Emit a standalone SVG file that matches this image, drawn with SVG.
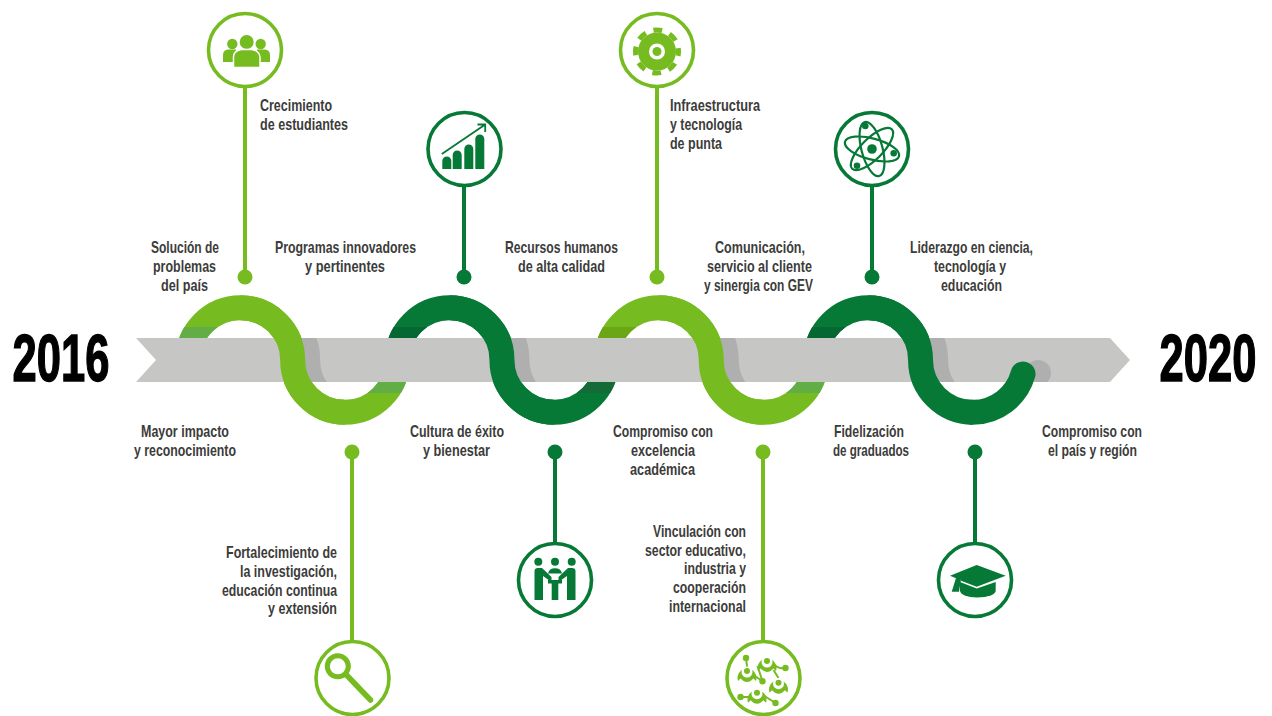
<svg xmlns="http://www.w3.org/2000/svg" width="1272" height="716" viewBox="0 0 1272 716">
<style>
.t{font-family:"Liberation Sans Narrow","Liberation Sans",Arial,sans-serif;font-size:17px;font-weight:700;fill:#3c3c3b}
.y{font-family:"Liberation Sans","Liberation Sans Narrow",Arial,sans-serif;font-size:67px;font-weight:700;fill:#000;stroke:#000;stroke-width:1.5}
.w{fill:none;stroke-width:25}
.L{stroke:#76bc21}.D{stroke:#067936}
.lf{fill:#76bc21}.df{fill:#067936}
.ring{fill:#fff;stroke-width:3.6}
.pin{stroke-width:4;fill:none}
.sh{stroke:#afafaf}
</style>
<defs>
<clipPath id="band"><path d="M136 338H1110L1130 360L1110 382H136L156 360Z"/></clipPath>
<clipPath id="up"><rect x="0" y="327" width="1272" height="11.500"/></clipPath>
<clipPath id="dn"><rect x="0" y="381.500" width="1272" height="11.500"/></clipPath>
<path id="s1" d="M240.330 307.675A52.325 52.325 0 0 1 292.650 360A52.325 52.325 0 0 0 344.980 412.325"/>
<path id="s2" d="M449.630 307.675A52.325 52.325 0 0 1 501.950 360A52.325 52.325 0 0 0 554.280 412.325"/>
<path id="s3" d="M658.930 307.675A52.325 52.325 0 0 1 711.250 360A52.325 52.325 0 0 0 763.580 412.325"/>
<path id="s4" d="M868.230 307.675A52.325 52.325 0 0 1 920.550 360A52.325 52.325 0 0 0 972.880 412.325"/>
<g id="fig">
<path d="M-9 8A9.500 9.500 0 1 1 9 8L6.500 5.500Q3 9 0 9Q-3 9 -6.500 5.500Z" fill="#76bc21"/>
<circle cy="-1" r="5.500" fill="#fff"/>
<circle cy="-2" r="3" fill="#76bc21"/>
</g>
</defs>
<rect width="1272" height="716" fill="#fff"/>
<g id="connectors">
<g id="wave-back">
<path class="w L" d="M188 360A52.325 52.325 0 0 1 292.650 360A52.325 52.325 0 0 0 397.300 360"/>
<path class="w D" d="M397.300 360A52.325 52.325 0 0 1 501.950 360A52.325 52.325 0 0 0 606.600 360"/>
<path class="w L" d="M606.600 360A52.325 52.325 0 0 1 711.250 360A52.325 52.325 0 0 0 815.900 360"/>
<path class="w D" d="M815.900 360A52.325 52.325 0 0 1 920.550 360"/>
<g clip-path="url(#up)">
<path class="w" stroke="#62ad45" d="M188 360A52.325 52.325 0 0 1 240.330 307.675"/>
<path class="w" stroke="#056731" d="M397.300 360A52.325 52.325 0 0 1 449.630 307.675"/>
<path class="w" stroke="#6ba614" d="M606.600 360A52.325 52.325 0 0 1 658.930 307.675"/>
<path class="w" stroke="#056731" d="M815.900 360A52.325 52.325 0 0 1 868.230 307.675"/>
</g>
<g clip-path="url(#dn)">
<path class="w" stroke="#62ad45" d="M344.980 412.325A52.325 52.325 0 0 0 397.300 360"/>
<path class="w" stroke="#156b38" d="M554.280 412.325A52.325 52.325 0 0 0 606.600 360"/>
<path class="w" stroke="#62ad45" d="M763.580 412.325A52.325 52.325 0 0 0 815.900 360"/>
</g>
</g>
<path id="band-shape" d="M136 338H1110L1130 360L1110 382H136L156 360Z" fill="#c6c6c5"/>
<g id="band-shadow" clip-path="url(#band)">
<g transform="translate(15 0)">
<use href="#s1" class="w sh"/><use href="#s2" class="w sh"/><use href="#s3" class="w sh"/><use href="#s4" class="w sh"/>
</g>
<circle cx="1038" cy="373" r="13" fill="#afafaf"/>
</g>
<g id="wave-front">
<use href="#s1" class="w L"/><use href="#s2" class="w D"/><use href="#s3" class="w L"/><use href="#s4" class="w D"/>
<path class="w D" stroke-linecap="round" d="M972.880 412.325A52.325 52.325 0 0 0 1023 374"/>
</g>
<g id="stems">
<path class="pin L" d="M245 86V277M657 86V277M352 452V642M763 452V642"/>
<path class="pin D" d="M464 185V277M872 185V277M555 452V544M975 452V544"/>
<circle class="lf" cx="245" cy="277" r="7.500"/><circle class="lf" cx="657" cy="277" r="7.500"/>
<circle class="lf" cx="352" cy="452" r="7.500"/><circle class="lf" cx="763" cy="452" r="7.500"/>
<circle class="df" cx="464" cy="277" r="7.500"/><circle class="df" cx="872" cy="277" r="7.500"/>
<circle class="df" cx="555" cy="452" r="7.500"/><circle class="df" cx="975" cy="452" r="7.500"/>
</g>
</g>
<g id="year-2016"><text class="y" transform="translate(12.500 381) scale(.65 1)">2016</text></g>
<g id="year-2020"><text class="y" transform="translate(1159.500 381) scale(.65 1)">2020</text></g>

<g id="node-estudiantes">
<g transform="translate(245 50)">
<circle class="ring L" r="36.500"/>
<g class="lf">
<circle cx="-12.700" cy="-6" r="5.200"/><circle cx="15.700" cy="-6" r="5.200"/>
<path d="M-22 12V5Q-22 0 -17 -0.500H-9V12ZM25 12V5Q25 0 20 -0.500H12V12Z"/>
<circle cx="1.700" cy="-8" r="7"/>
<path d="M-11.500 17.500V7Q-11.500 1 -4 -0.500H7Q14.500 1 15 7V17.500Z" stroke="#fff" stroke-width="1.500"/>
</g>
</g>
<text class="t" x="260" y="111" textLength="72" lengthAdjust="spacingAndGlyphs">Crecimiento</text>
<text class="t" x="260" y="130" textLength="88" lengthAdjust="spacingAndGlyphs">de estudiantes</text>
</g>

<g id="node-solucion">
<text class="t" x="151" y="253" textLength="68" lengthAdjust="spacingAndGlyphs">Solución de</text>
<text class="t" x="153" y="272" textLength="63" lengthAdjust="spacingAndGlyphs">problemas</text>
<text class="t" x="161" y="291" textLength="47" lengthAdjust="spacingAndGlyphs">del país</text>
</g>

<g id="node-programas">
<g transform="translate(464.500 149)">
<circle class="ring D" r="36.500"/>
<g class="df">
<path d="M-22.200 20V12A4.500 4.500 0 0 1 -13.200 12V20Z"/>
<path d="M-11.800 20V6A4.500 4.500 0 0 1 -2.800 6V20Z"/>
<path d="M-0.200 20V0A4.500 4.500 0 0 1 8.800 0V20Z"/>
<path d="M10.800 20V-10A4.500 4.500 0 0 1 19.800 -10V20Z"/>
</g>
<path d="M-22.700 5L20 -24M13 -24.500H20.700V-17" fill="none" stroke="#067936" stroke-width="1.800"/>
</g>
<text class="t" x="275" y="253" textLength="141" lengthAdjust="spacingAndGlyphs">Programas innovadores</text>
<text class="t" x="305" y="272" textLength="80" lengthAdjust="spacingAndGlyphs">y pertinentes</text>
</g>

<g id="node-recursos">
<text class="t" x="505" y="253" textLength="113" lengthAdjust="spacingAndGlyphs">Recursos humanos</text>
<text class="t" x="518" y="272" textLength="87" lengthAdjust="spacingAndGlyphs">de alta calidad</text>
</g>

<g id="node-infraestructura">
<g transform="translate(657 50)">
<circle class="ring L" r="36.500"/>
<g transform="translate(0 1.500)">
<circle r="21.500" fill="none" stroke="#76bc21" stroke-width="5" stroke-dasharray="8.900 8" stroke-dashoffset="4.400"/>
<circle r="13.500" fill="none" stroke="#76bc21" stroke-width="11"/>
<circle r="4.500" class="lf"/>
</g>
</g>
<text class="t" x="670" y="111" textLength="90" lengthAdjust="spacingAndGlyphs">Infraestructura</text>
<text class="t" x="670" y="130" textLength="72" lengthAdjust="spacingAndGlyphs">y tecnología</text>
<text class="t" x="670" y="149" textLength="52" lengthAdjust="spacingAndGlyphs">de punta</text>
</g>

<g id="node-comunicacion">
<text class="t" x="715" y="253" textLength="90" lengthAdjust="spacingAndGlyphs">Comunicación,</text>
<text class="t" x="707" y="272" textLength="105" lengthAdjust="spacingAndGlyphs">servicio al cliente</text>
<text class="t" x="704" y="291" textLength="109" lengthAdjust="spacingAndGlyphs">y sinergia con GEV</text>
</g>

<g id="node-liderazgo">
<g transform="translate(872 149)">
<circle class="ring D" r="36.500"/>
<g fill="none" stroke="#067936" stroke-width="2.200">
<ellipse rx="10.500" ry="28" transform="rotate(-15)"/>
<ellipse rx="10.500" ry="28" transform="rotate(45)"/>
<ellipse rx="10.500" ry="28" transform="rotate(105)"/>
</g>
<g class="df">
<circle r="4.800"/>
<circle cx="-6.700" cy="-23" r="3.300"/><circle cx="21.700" cy="4.300" r="3.300"/><circle cx="-15" cy="16.700" r="3.300"/>
</g>
</g>
<text class="t" x="910" y="253" textLength="123" lengthAdjust="spacingAndGlyphs">Liderazgo en ciencia,</text>
<text class="t" x="934" y="272" textLength="72" lengthAdjust="spacingAndGlyphs">tecnología y</text>
<text class="t" x="941" y="291" textLength="61" lengthAdjust="spacingAndGlyphs">educación</text>
</g>

<g id="node-impacto">
<text class="t" x="141" y="437" textLength="88" lengthAdjust="spacingAndGlyphs">Mayor impacto</text>
<text class="t" x="134" y="456" textLength="102" lengthAdjust="spacingAndGlyphs">y reconocimiento</text>
</g>

<g id="node-investigacion">
<g transform="translate(352.500 678)">
<circle class="ring L" r="36.500"/>
<circle cx="-14.700" cy="-11.700" r="10.500" fill="none" stroke="#76bc21" stroke-width="5"/>
<path d="M-6 -3L18 22" stroke="#76bc21" stroke-width="5.500" stroke-linecap="round"/>
</g>
<text class="t" x="226" y="558" textLength="111" lengthAdjust="spacingAndGlyphs">Fortalecimiento de</text>
<text class="t" x="240" y="577" textLength="97" lengthAdjust="spacingAndGlyphs">la investigación,</text>
<text class="t" x="222" y="596" textLength="115" lengthAdjust="spacingAndGlyphs">educación continua</text>
<text class="t" x="268" y="614" textLength="69" lengthAdjust="spacingAndGlyphs">y extensión</text>
</g>

<g id="node-cultura">
<g transform="translate(555 580)">
<circle class="ring D" r="36.500"/>
<g class="df">
<circle cx="-16.700" cy="-18.300" r="4"/><circle cy="-18.300" r="4"/><circle cx="16.700" cy="-18.300" r="4"/>
<path d="M-20.500 20V-9Q-20.500 -12 -17 -12H-13L-3.500 -3V2L-12 -4V20Z"/>
<path d="M20.500 20V-9Q20.500 -12 17 -12H13L3.500 -3V2L12 -4V20Z"/>
<path d="M-7 -6.500Q-6 -11.700 0 -11.700Q6 -11.700 7 -6.500Z"/>
<path d="M-7 0H7V3.500H3.300V20H-3.300V3.500H-7Z"/>
</g>
</g>
<text class="t" x="410" y="437" textLength="94" lengthAdjust="spacingAndGlyphs">Cultura de éxito</text>
<text class="t" x="423" y="456" textLength="67" lengthAdjust="spacingAndGlyphs">y bienestar</text>
</g>

<g id="node-compromiso-academico">
<text class="t" x="613" y="437" textLength="100" lengthAdjust="spacingAndGlyphs">Compromiso con</text>
<text class="t" x="631" y="456" textLength="64" lengthAdjust="spacingAndGlyphs">excelencia</text>
<text class="t" x="630" y="475" textLength="65" lengthAdjust="spacingAndGlyphs">académica</text>
</g>

<g id="node-vinculacion">
<g transform="translate(763.500 678)">
<circle class="ring L" r="36.500"/>
<path d="M-17.500 -20L-16 -8M22 -10Q15 -9 11 -13M-1 3.300L-10 -3M-1 3.300L-6 -12M-23 19H-14M12 25L1 18M15 0L10 -8" fill="none" stroke="#76bc21" stroke-width="2"/>
<g class="lf">
<circle cx="-17.500" cy="-20" r="3.200"/><circle cx="22" cy="-10" r="3.200"/><circle cx="-1" cy="3.300" r="3.200"/><circle cx="-23" cy="19" r="3.200"/><circle cx="12" cy="25" r="3.200"/>
</g>
<use href="#fig" x="3.500" y="-15"/>
<use href="#fig" x="-16.500" y="-5"/>
<use href="#fig" x="15" y="6.700"/>
<use href="#fig" x="-6.500" y="16.700"/>
</g>
<text class="t" x="653" y="537" textLength="93" lengthAdjust="spacingAndGlyphs">Vinculación con</text>
<text class="t" x="645" y="556" textLength="101" lengthAdjust="spacingAndGlyphs">sector educativo,</text>
<text class="t" x="684" y="574" textLength="62" lengthAdjust="spacingAndGlyphs">industria y</text>
<text class="t" x="673" y="593" textLength="73" lengthAdjust="spacingAndGlyphs">cooperación</text>
<text class="t" x="669" y="612" textLength="77" lengthAdjust="spacingAndGlyphs">internacional</text>
</g>

<g id="node-fidelizacion">
<text class="t" x="834" y="437" textLength="70" lengthAdjust="spacingAndGlyphs">Fidelización</text>
<text class="t" x="833" y="456" textLength="76" lengthAdjust="spacingAndGlyphs">de graduados</text>
</g>

<g id="node-compromiso-pais">
<g transform="translate(975 580)">
<circle class="ring D" r="36.500"/>
<g class="df">
<path d="M-15 2L1.700 8.500L20.700 2V11Q19 17 2 17.500Q-13 17 -15 11Z"/>
<path d="M-25 -4.300L1.700 -15L30.700 -4.300L1.700 6.700L-14 0.800V-0.700H-16.700L-19 -1.700Z"/>
<path d="M-19 -2L-14 -0.700L-16 11.700H-23.300Z"/>
</g>
</g>
<text class="t" x="1042" y="437" textLength="100" lengthAdjust="spacingAndGlyphs">Compromiso con</text>
<text class="t" x="1048" y="456" textLength="89" lengthAdjust="spacingAndGlyphs">el país y región</text>
</g>
</svg>
